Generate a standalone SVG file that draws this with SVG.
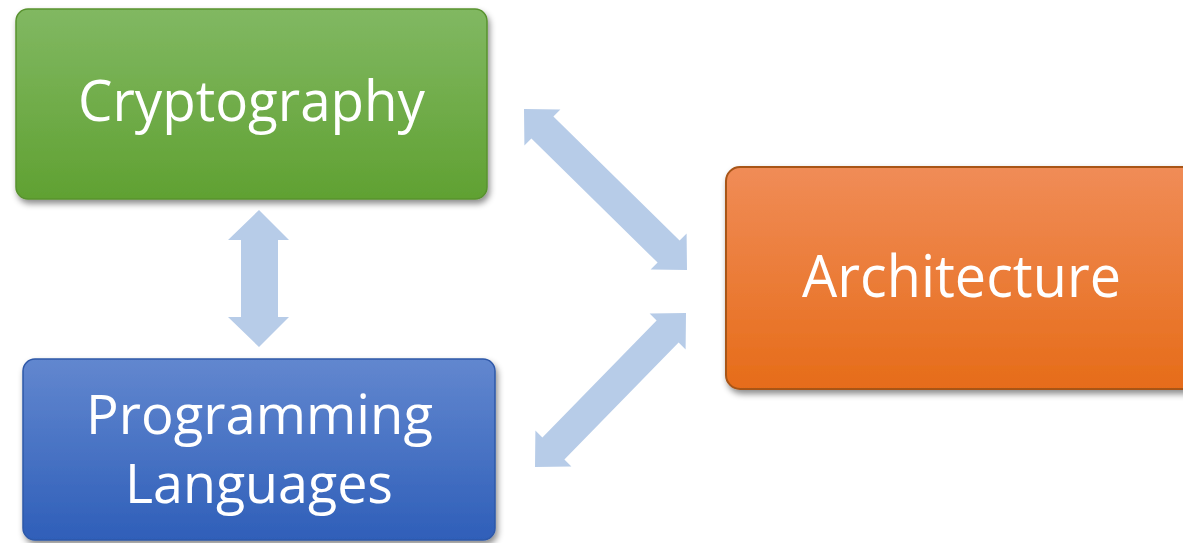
<svg xmlns="http://www.w3.org/2000/svg" width="1183" height="543" viewBox="0 0 1183 543">
<style>
.lbl{font-family:"Open Sans","Noto Sans","Liberation Sans",sans-serif;fill:#ffffff;font-size:57px}
.arrow{fill:#b7cce8}
</style>
<defs>
<linearGradient id="gGreen" x1="0" y1="0" x2="0" y2="1">
<stop offset="0" stop-color="#81b862"/>
<stop offset="1" stop-color="#60a132"/>
</linearGradient>
<linearGradient id="gBlue" x1="0" y1="0" x2="0" y2="1">
<stop offset="0" stop-color="#6287cf"/>
<stop offset="1" stop-color="#2f5fb9"/>
</linearGradient>
<linearGradient id="gOrange" x1="0" y1="0" x2="0" y2="1">
<stop offset="0" stop-color="#f08c57"/>
<stop offset="1" stop-color="#e66c19"/>
</linearGradient>
<filter id="shadow" x="-10%" y="-10%" width="120%" height="130%">
<feDropShadow dx="2" dy="4" stdDeviation="3" flood-color="#000" flood-opacity="0.45"/>
</filter>
</defs>
<g id="connectors">
<polygon class="arrow" points="259,210 289,240 278,240 278,317 289,317 259,347 228,317 241,317 241,240 228,240"/>
<polygon class="arrow" points="524,109 560.4,109.4 553.4,116.4 679.6,240.6 686.6,233.6 687,270 650.6,269.6 657.6,262.6 531.4,138.4 524.4,145.4"/>
<polygon class="arrow" points="686,313 685.6,349.4 678.6,342.4 564.4,459.6 571.4,466.6 535,467 535.4,430.6 542.4,437.6 656.6,320.4 649.6,313.4"/>
</g>
<g id="cryptography">
<rect x="16" y="9" width="471" height="190" rx="12" fill="url(#gGreen)" stroke="#58922f" stroke-width="1.5" filter="url(#shadow)"/>
<text class="lbl" x="78" y="121" textLength="347" lengthAdjust="spacingAndGlyphs">Cryptography</text>
</g>
<g id="programming-languages">
<rect x="23" y="359" width="472" height="181" rx="12" fill="url(#gBlue)" stroke="#2e58a8" stroke-width="1.5" filter="url(#shadow)"/>
<text class="lbl" x="86" y="434" font-size="54" style="font-size:54px" textLength="347" lengthAdjust="spacingAndGlyphs">Programming</text>
<text class="lbl" x="125" y="503" style="font-size:54px" textLength="268" lengthAdjust="spacingAndGlyphs">Languages</text>
</g>
<g id="architecture">
<rect x="726" y="167" width="480" height="222" rx="14" fill="url(#gOrange)" stroke="#a85419" stroke-width="2" filter="url(#shadow)"/>
<text class="lbl" x="802" y="297" style="font-size:58px" textLength="319" lengthAdjust="spacingAndGlyphs">Architecture</text>
</g>
</svg>
